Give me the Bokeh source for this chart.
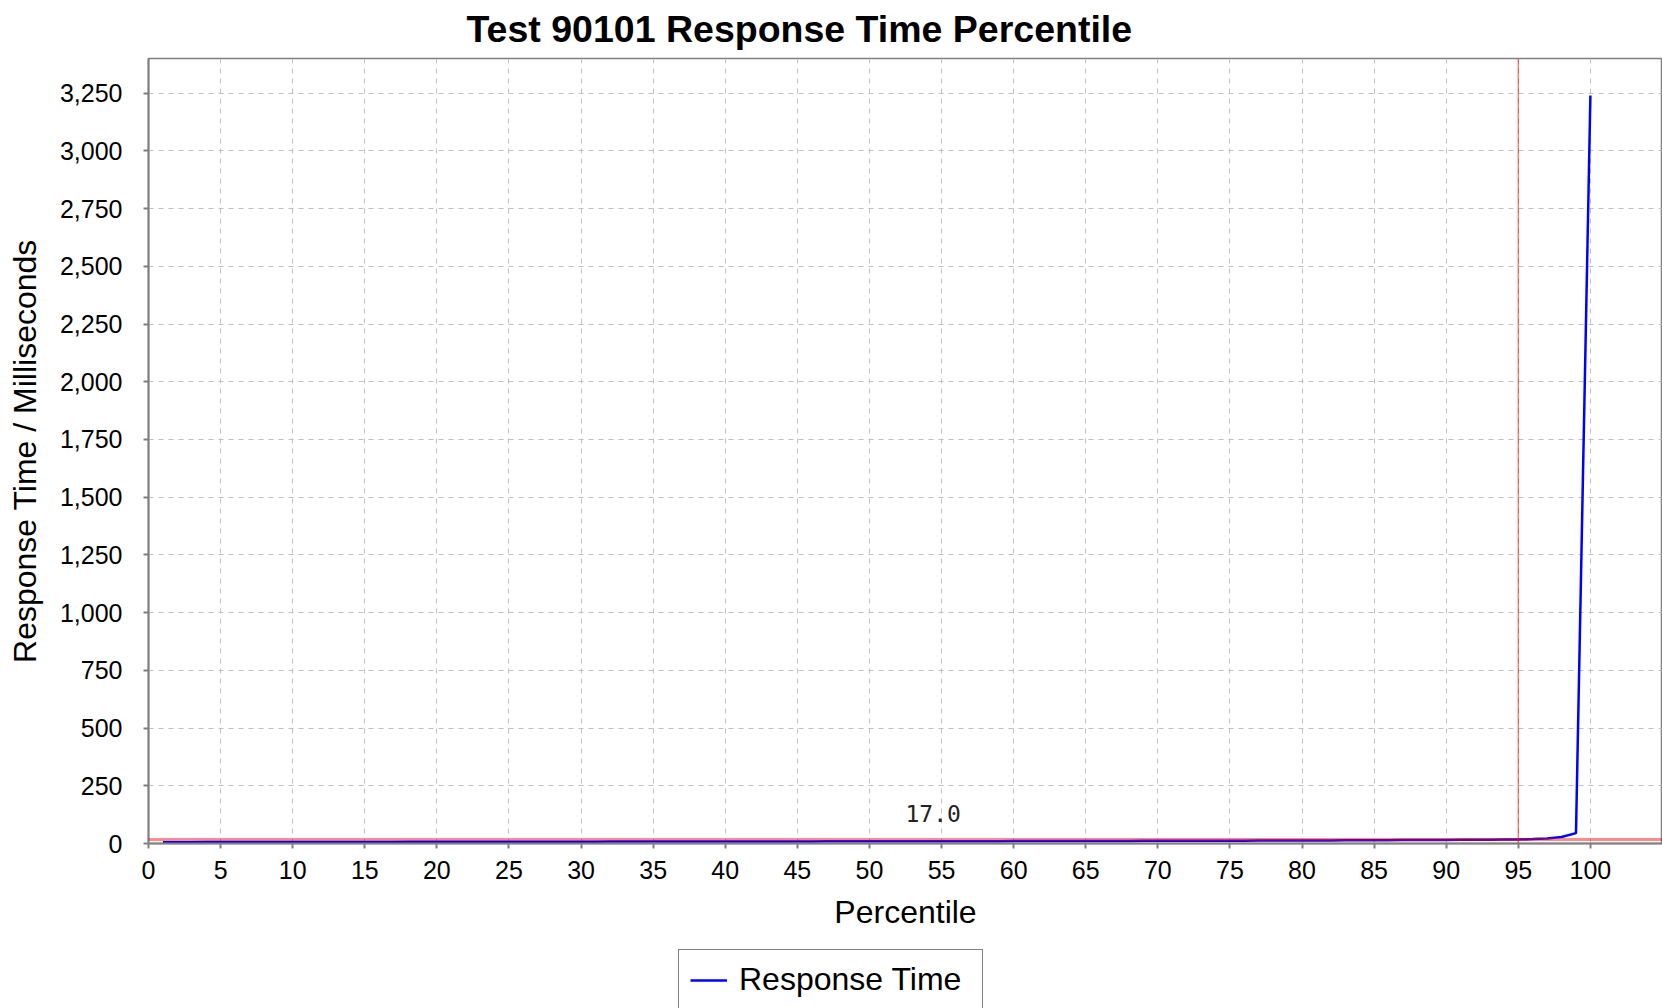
from bokeh.plotting import figure
from bokeh.layouts import column
from bokeh.models import Span, Legend, LegendItem, NumeralTickFormatter, FixedTicker, Range1d
from bokeh.core.properties import value
from bokeh.embed import file_html
from bokeh.resources import INLINE

# ---- data ----
percentiles = list(range(1, 101))
response_ms = [
    5, 5, 5, 6, 6, 6, 6, 6, 7, 7,
    7, 7, 7, 7, 7, 7, 7, 8, 8, 8,
    8, 8, 8, 8, 8, 8, 8, 8, 8, 8,
    8, 9, 9, 9, 9, 9, 9, 9, 9, 9,
    9, 9, 9, 9, 9, 9, 10, 10, 10, 10,
    10, 10, 10, 10, 10, 10, 10, 10, 10, 11,
    11, 11, 11, 11, 11, 11, 11, 11, 12, 12,
    12, 12, 12, 12, 12, 12, 13, 13, 13, 13,
    13, 13, 14, 14, 14, 14, 15, 15, 15, 15,
    16, 16, 16, 17, 17, 19, 22, 28, 45, 3240,
]
average_ms = 17.0
marker_percentile = 95
x_ticks = list(range(0, 101, 5))
y_ticks = list(range(0, 3251, 250))
series_name = "Response Time"

FONT = "Liberation Sans"
GRAY = "#808080"
BLUE = "#0000ff"

p = figure(width=1662, height=940, output_backend="svg", toolbar_location=None,
           x_range=Range1d(0, 105), y_range=Range1d(0, 3400),
           min_border_left=148, min_border_top=58, min_border_right=0,
           min_border_bottom=97)

p.title.text = "Test 90101 Response Time Percentile"
p.title.text_font = FONT
p.title.text_font_size = "37.5px"
p.title.text_font_style = "bold"
p.title.text_color = "black"
p.title.align = "left"
p.title.vertical_align = "top"
p.title.offset = 318
p.title.standoff = 14

p.background_fill_color = "white"
p.border_fill_color = "white"
p.outline_line_color = GRAY
p.outline_line_width = 1.5

# grid
for g in (p.xgrid, p.ygrid):
    g.grid_line_color = "#c0c0c0"
    g.grid_line_dash = "5 5"
    g.grid_line_width = 1
p.xgrid.ticker = FixedTicker(ticks=x_ticks)
p.ygrid.ticker = FixedTicker(ticks=y_ticks[1:])

# axes
p.xaxis.ticker = FixedTicker(ticks=x_ticks)
p.yaxis.ticker = FixedTicker(ticks=y_ticks)
p.yaxis.formatter = NumeralTickFormatter(format="0,0")
for ax in (p.xaxis, p.yaxis):
    ax.axis_line_color = GRAY
    ax.axis_line_width = 2
    ax.major_tick_line_color = GRAY
    ax.major_tick_line_width = 2
    ax.major_tick_out = 5
    ax.major_tick_in = 0
    ax.minor_tick_line_color = None
    ax.major_label_text_font = FONT
    ax.major_label_text_font_size = "25px"
    ax.major_label_text_color = "black"
    ax.axis_label_text_font = FONT
    ax.axis_label_text_font_size = "32px"
    ax.axis_label_text_font_style = "normal"
    ax.axis_label_text_color = "black"
p.xaxis.axis_label = "Percentile"
p.yaxis.axis_label = "Response Time / Milliseconds"
p.xaxis.major_label_standoff = 12
p.yaxis.major_label_standoff = 21
p.xaxis.axis_label_standoff = 12
p.yaxis.axis_label_standoff = 14

line = p.line(percentiles, response_ms, line_color=BLUE, line_width=2.5)

p.add_layout(Span(location=average_ms, dimension="width", line_color="red",
                  line_alpha=0.45, line_width=3))
p.add_layout(Span(location=marker_percentile, dimension="height", line_color="red",
                  line_alpha=0.5, line_width=1.5))

p.text(x=[52.5], y=[average_ms], text=[f"{average_ms:.1f}"], y_offset=-18,
       text_baseline="bottom", text_align="left",
       text_font=value("DejaVu Sans Mono"), text_font_size="23px",
       text_color="#222222")

# ---- legend strip below the chart ----
lf = figure(width=1662, height=68, output_backend="svg", toolbar_location=None,
            x_range=Range1d(0, 1), y_range=Range1d(0, 1),
            x_axis_type=None, y_axis_type=None,
            min_border=0, min_border_left=0, min_border_right=0,
            min_border_top=0, min_border_bottom=0)
lf.grid.visible = False
lf.outline_line_color = None
lf.background_fill_color = "white"
lf.border_fill_color = "white"
# legend sample drawn outside the visible range of this strip
legend_line = lf.line([5, 6], [5, 6], line_color=BLUE, line_width=2.5)

legend = Legend(items=[LegendItem(label=series_name, renderers=[legend_line])],
                location=(530, -2), orientation="horizontal")
legend.border_line_color = "black"
legend.border_line_width = 1.5
legend.background_fill_color = "white"
legend.background_fill_alpha = 1
legend.label_text_font = FONT
legend.label_text_font_size = "32px"
legend.label_text_color = "black"
legend.glyph_width = 37
legend.glyph_height = 20
legend.label_standoff = 12
legend.label_width = 232
legend.padding = 11
legend.margin = 0
legend.spacing = 0
lf.add_layout(legend, "center")

layout = column(p, lf, spacing=0)
open("out.html", "w").write(file_html(layout, INLINE))
